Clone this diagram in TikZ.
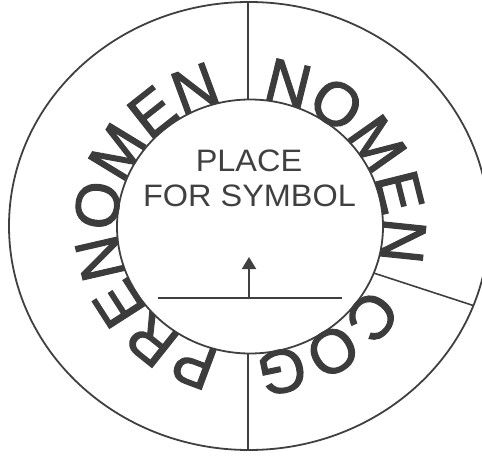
\documentclass[tikz,border=0pt]{standalone}
\usepackage{fontspec}
\setmainfont{Liberation Sans}
\newfontfamily\ringfamily[FakeBold=2]{Liberation Sans}
\usetikzlibrary{calc,arrows.meta,decorations.text}
\definecolor{inkgrey}{HTML}{404040}
\definecolor{lettergrey}{HTML}{3C3C3C}
\tikzset{
  outer ring/.style={line width=1.8pt,inkgrey},
  inner ring/.style={line width=1.8pt,inkgrey},
  divider line/.style={line width=1.6pt,inkgrey},
  base line/.style={line width=1.9pt,inkgrey},
  up arrow/.style={line width=1.9pt,inkgrey,-{Triangle[length=12pt,width=14pt]}},
  symbol text/.style={font=\fontsize{31}{34}\selectfont,text=inkgrey,inner sep=0pt,anchor=base,xscale=1.047},
}
\newcommand{\ringfont}{\ringfamily\fontsize{61}{61}\selectfont}
\newcommand{\drawRingText}[3]{
\path[decorate,decoration={text along path,text align=center,text color=lettergrey,text={|\ringfont|#3}}]
  ($(ctr)+(#1+#2:133 and 127)$) arc[start angle=#1+#2,end angle=#1-#2,x radius=133,y radius=127];
}

\begin{document}
\begin{tikzpicture}[x=1pt,y=1pt]
\useasboundingbox (0,0) rectangle (482,456);
\clip (0,0) rectangle (482,456);
\coordinate (ctr) at (250,229.5);
\coordinate (octr) at (249,230);
\draw[outer ring] (octr) ellipse [x radius=240,y radius=224];
\draw[inner ring] (ctr) ellipse [x radius=133,y radius=127];
% dividers between the name fields
\coordinate (top in) at (248,356.5);
\coordinate (top out) at (248,454.5);
\coordinate (bot in) at (248,102.5);
\coordinate (bot out) at (248,5.5);
\coordinate (cog in) at ($(ctr)+(-21.5:133 and 127)$);
\coordinate (cog out) at ($(octr)+(-20.8:240 and 224)$);
\draw[divider line] (top in) -- (top out);
\draw[divider line] (bot in) -- (bot out);
\draw[divider line] (cog in) -- (cog out);
\drawRingText{179.5}{95}{PRENOMEN}
\drawRingText{34.5}{60}{NOMEN}
\drawRingText{-57.5}{45}{COG}
\node[symbol text] (place) at (249,284) {PLACE};
\node[symbol text] (for symbol) at (249.5,249.5) {FOR SYMBOL};
\coordinate (base left) at (158,158);
\coordinate (base right) at (342,158);
\coordinate (stem foot) at (249,158);
\coordinate (stem tip) at (249,199);
\draw[base line] (base left) -- (base right);
\draw[up arrow] (stem foot) -- (stem tip);
\end{tikzpicture}
\end{document}
